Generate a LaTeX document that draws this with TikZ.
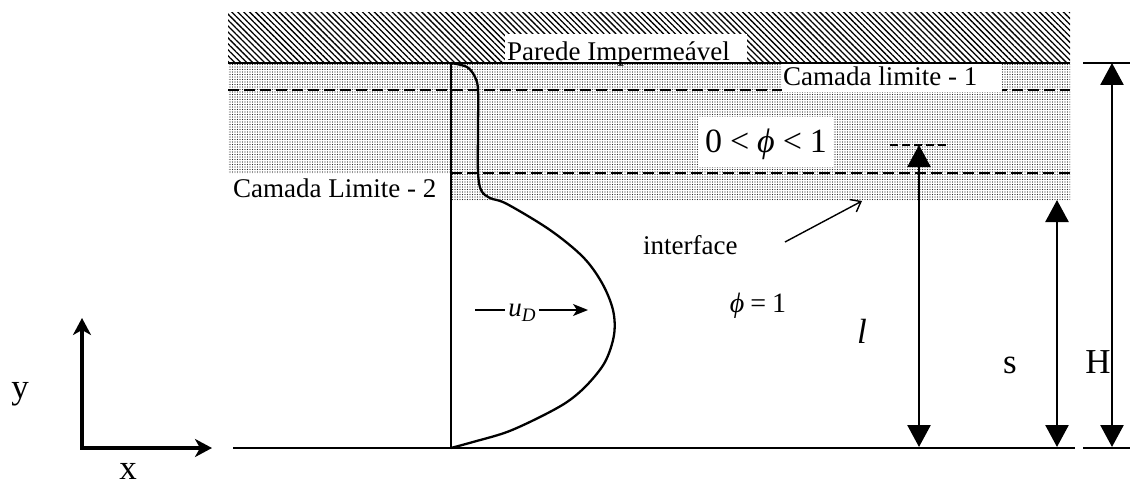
\documentclass[tikz,border=0pt]{standalone}
\usepackage{fontspec}
\setmainfont{Liberation Serif}
\usetikzlibrary{arrows.meta,patterns.meta}
\begin{document}
\begin{tikzpicture}[x=1pt,y=-1pt,
  lbl/.style={inner sep=0pt, font=\fontsize{27}{30}\selectfont},
  big/.style={inner sep=0pt, font=\fontsize{35}{40}\selectfont},
  dimarrow/.style={line width=2.6pt, {Triangle[width=23pt,length=22pt]}-{Triangle[width=23pt,length=22pt]}},
  dsh/.style={line width=1.8pt, dash pattern=on 11pt off 5pt},
  tick/.style={line width=2pt},
  axis/.style={line width=4pt, line join=miter, {Stealth[length=17pt,width=18pt,inset=5pt]}-{Stealth[length=17pt,width=18pt,inset=5pt]}},
]
\useasboundingbox (0,0) rectangle (1130,487);

% impermeable wall hatch
\fill[pattern={Lines[angle=-45,distance=4.2pt,line width=1.3pt]}] (228,13) rectangle (1070,63);
% stippled boundary-layer region
\fill[pattern={Dots[distance=2.5pt,radius=0.7pt]}, pattern color=black!85] (228,63) rectangle (1070,200);

% dashed lines
\draw[dsh] (228,90) -- (1070,90);
\draw[dsh] (451,173) -- (1070,173);

% white label boxes
\fill[white] (505,34) rectangle (747,62);
\fill[white] (228,173.9) rectangle (450.5,206);
\fill[white] (782,64) rectangle (1002,91.5);
\fill[white] (698,117) rectangle (833,167);

% wall line and base line
\draw[line width=2pt] (228,63) -- (1070,63);
\draw[line width=2pt] (233,448) -- (1075,448);

% texts
\node[lbl, anchor=base west] (pi) at (507,60) {Parede Impermeável};
\node[lbl, anchor=base west] (cl1) at (783,85) {Camada limite - 1};
\node[lbl, anchor=base west] (cl2) at (233,197) {Camada Limite - 2};
\node[inner sep=0pt, font=\fontsize{34}{36}\selectfont, anchor=base] (phi01) at (766,152) {0\hspace{8pt}<\hspace{8pt}\textit{ϕ}\hspace{8pt}<\hspace{8pt}1};
\node[inner sep=0pt, font=\fontsize{28}{30}\selectfont, anchor=base] (phi1) at (758,312) {\textit{ϕ}\hspace{6pt}=\hspace{6pt}1};
\node[lbl, anchor=base west] (intf) at (643,254) {interface};
\node[big, anchor=base] (ell) at (862,343) {\itshape l};
\node[big, anchor=base] (s) at (1010,373) {s};
\node[big, anchor=base] (H) at (1098,373) {H};
\node[big, anchor=base] (ylab) at (20,398) {y};
\node[big, anchor=base] (xlab) at (128,479) {x};

% velocity profile
\draw[line width=1.5pt] (451,63) -- (451,448);
\draw[line width=2.3pt, line join=round] plot[smooth, tension=0.55] coordinates {
  (451,63) (467,67) (475,77) (478,90) (478,130) (478,172) (481,190) (490,198) (507,204)
  (550,230) (583,257) (602,283) (613,310) (614,335) (605,362) (587,385) (567,402)
  (540,417) (507,432) (473,442) (451,448)};

% u_D arrow
\node[lbl, inner sep=3pt, anchor=base] (ud) at (522,316) {\textit{u}\raisebox{-5pt}{\fontsize{19}{20}\selectfont\textit{D}}};
\coordinate (udl) at (475,310);
\coordinate (udr) at (588,310);
\draw[line width=1.5pt] (udl) -- (udl -| ud.west);
\draw[line width=1.5pt, -{Stealth[length=15pt,width=12pt,inset=4pt]}] (udr -| ud.east) -- (udr);

% interface arrow
\coordinate (ia) at (785,242);
\coordinate (ib) at (862,201);
\draw[line width=1.4pt, -{Straight Barb[length=9pt,width=14pt]}] (ia) -- (ib);

% dimension arrows
\coordinate (lt) at (919,145);
\coordinate (lb) at (919,447);
\coordinate (lda) at (890,145);
\coordinate (ldb) at (947,145);
\draw[line width=1.8pt, dash pattern=on 8pt off 4pt] (lda) -- (ldb);
\draw[dimarrow] (lt) -- (lb);

\coordinate (st) at (1057,200);
\coordinate (sb) at (1057,447);
\draw[dimarrow] (st) -- (sb);

\coordinate (ht) at (1112,63);
\coordinate (hb) at (1112,447);
\coordinate (hta) at (1083,63);
\coordinate (htb) at (1130,63);
\coordinate (hba) at (1083,448);
\coordinate (hbb) at (1130,448);
\draw[tick] (hta) -- (htb);
\draw[tick] (hba) -- (hbb);
\draw[dimarrow] (ht) -- (hb);

% coordinate axes
\coordinate (o) at (82,448);
\coordinate (ax) at (212,448);
\coordinate (ay) at (82,318);
\draw[axis] (ay) -- (o) -- (ax);
\end{tikzpicture}
\end{document}
